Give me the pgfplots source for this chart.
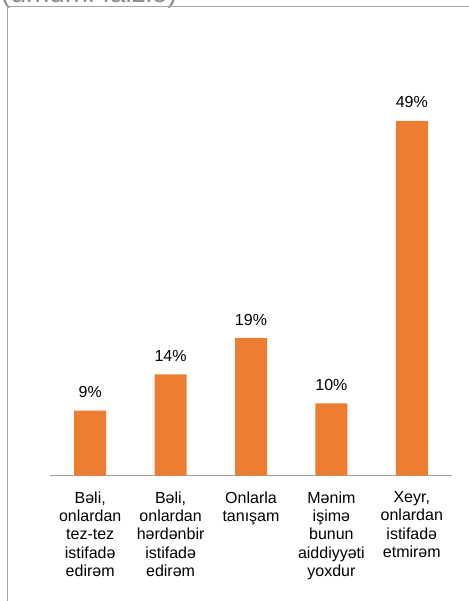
\documentclass[border=0pt]{standalone}
\usepackage{fontspec}
\setmainfont{Liberation Sans}
\usepackage{pgfplots}
\pgfplotsset{compat=1.18}
\definecolor{barorange}{HTML}{ED7D31}
\definecolor{framegray}{HTML}{A6A6A6}
\definecolor{titlegray}{HTML}{8C8C8C}
\definecolor{axisgray}{HTML}{A0A0A0}
\begin{document}
\begin{tikzpicture}
\useasboundingbox (0,0) rectangle (469bp,601bp);
\begin{scope}
\clip (0,0) rectangle (469bp,601bp);
\node[anchor=base west, inner sep=0pt, font=\fontsize{28bp}{30bp}\selectfont, text=titlegray] at (1bp,598.8bp) {(ümumi faizlə)};
\draw[framegray, line width=1.5bp] (7.3bp,-5bp) -- (7.3bp,594.3bp) -- (480bp,594.3bp);
\end{scope}
\begin{axis}[
  at={(50bp,125.3bp)}, anchor=south west,
  scale only axis, width=402bp, height=398.2bp,
  xmin=-0.5, xmax=4.5, ymin=0, ymax=55,
  hide y axis,
  axis x line*=bottom,
  x axis line style={draw=axisgray, line width=1bp},
  xtick=data,
  xtick style={draw=none},
  xticklabels={{Bəli,\\onlardan\\tez-tez\\istifadə\\edirəm},{Bəli,\\onlardan\\hərdənbir\\istifadə\\edirəm},{Onlarla\\tanışam},{Mənim\\işimə\\bunun\\aiddiyyəti\\yoxdur},{Xeyr,\\onlardan\\istifadə\\etmirəm}},
  xticklabel style={align=center, anchor=north, inner sep=0pt, yshift=-11.5bp, font=\fontsize{16bp}{18.3bp}\selectfont},
  ybar, bar width=32bp,
  /pgf/number format/assume math mode=true,
  nodes near coords={\pgfmathprintnumber{\pgfplotspointmeta}\%},
  nodes near coords style={anchor=base, inner sep=0pt, yshift=13bp, font=\fontsize{16bp}{18bp}\selectfont, text=black},
]
\addplot[fill=barorange, draw=none] coordinates {(0,9) (1,14) (2,19) (3,10) (4,49)};
\end{axis}
\end{tikzpicture}
\end{document}
